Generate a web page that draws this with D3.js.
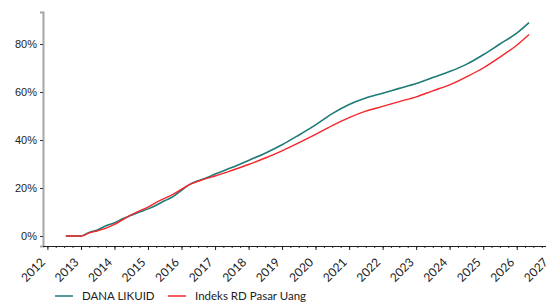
<!DOCTYPE html>
<html>
<head>
<meta charset="utf-8">
<script src="https://cdn.jsdelivr.net/npm/d3@7"></script>
<style>
  body { margin: 0; background: #fff; }
  .ytick text { font-family: "Liberation Sans", Arial, sans-serif; font-size: 11px; fill: #222; }
  .xtick text { font-family: Lato, "Open Sans", sans-serif; font-size: 12px; fill: #222; }
  .legend text { font-family: Lato, "Open Sans", sans-serif; font-size: 11.5px; fill: #222; }
</style>
</head>
<body>
<div id="chart"></div>
<script>
// data (cumulative return, %)
const dates = ["2012-07-20", "2012-10-01", "2013-01-01", "2013-04-01", "2013-07-01", "2013-10-01",
  "2014-01-01", "2014-04-01", "2014-07-01", "2014-10-01", "2015-01-01", "2015-04-01", "2015-07-01",
  "2015-10-01", "2016-01-01", "2016-04-01", "2016-07-01", "2016-10-01", "2017-01-01", "2017-07-01",
  "2018-01-01", "2018-07-01", "2019-01-01", "2019-07-01", "2020-01-01", "2020-07-01", "2021-01-01",
  "2021-07-01", "2022-01-01", "2022-07-01", "2023-01-01", "2023-07-01", "2024-01-01", "2024-07-01",
  "2025-01-01", "2025-07-01", "2026-01-01", "2026-05-15"];
const danaLikuid = [0, 0, 0, 1.5, 2.5, 4.3, 5.5, 7.2, 8.6, 10.0, 11.3, 12.8, 14.7, 16.4, 19.0, 21.5,
  23.0, 24.3, 25.8, 28.5, 31.5, 34.5, 38.0, 42.0, 46.3, 51.0, 54.8, 57.5, 59.5, 61.5, 63.5, 66.0,
  68.5, 71.5, 75.5, 80.0, 84.5, 88.9];
const indeksRD = [0, 0, 0, 1.3, 2.2, 3.3, 4.8, 6.8, 8.8, 10.5, 12.0, 14.0, 15.7, 17.3, 19.5, 21.5,
  22.8, 24.0, 25.0, 27.3, 29.8, 32.5, 35.5, 38.8, 42.3, 46.0, 49.3, 52.0, 54.0, 56.0, 58.0, 60.5,
  63.0, 66.3, 70.0, 74.5, 79.5, 84.0];
const seriesNames = ["DANA LIKUID", "Indeks RD Pasar Uang"];
const seriesColors = ["#1f7a78", "#f5262a"];
const yTicks = [0, 20, 40, 60, 80];

const width = 546, height = 302;
const parse = d3.timeParse("%Y-%m-%d");

const svg = d3.select("#chart").append("svg")
  .attr("width", width)
  .attr("height", height);

const x = d3.scaleTime()
  .domain([parse("2011-11-14"), parse("2026-11-16")])
  .range([43, 546]);

const y = d3.scaleLinear()
  .domain([-4.17, 93.33])
  .range([246, 12]);

// y axis (grey line, small dark ticks)
const yAxis = svg.append("g")
  .attr("class", "ytick")
  .attr("transform", "translate(43,0)")
  .call(d3.axisLeft(y).tickValues(yTicks).tickSize(3).tickPadding(3).tickFormat(d => d + "%"));
yAxis.select(".domain").attr("stroke", "#a6a6a6").attr("stroke-width", 2);
yAxis.selectAll(".tick line").attr("stroke", "#333");

// x axis: minor quarterly ticks, then major yearly ticks with rotated labels
const years = d3.timeYear.range(parse("2012-01-01"), parse("2028-01-01"));
svg.append("g")
  .attr("transform", "translate(0,246)")
  .call(d3.axisBottom(x).ticks(d3.timeMonth.every(3)).tickSize(2).tickFormat(""))
  .call(g => g.select(".domain").remove())
  .selectAll(".tick line").attr("stroke", "#333");

const xAxis = svg.append("g")
  .attr("class", "xtick")
  .attr("transform", "translate(0,246)")
  .call(d3.axisBottom(x).tickValues(years).tickSize(4).tickSizeOuter(0).tickFormat(d3.timeFormat("%Y")));
xAxis.select(".domain").attr("stroke", "#222").attr("d", "M43,0.5H546");
xAxis.selectAll(".tick line").attr("stroke", "#222");
xAxis.selectAll(".tick text")
  .attr("text-anchor", "end")
  .attr("dy", null)
  .attr("y", 0)
  .attr("transform", "translate(-2,17) rotate(-45)");

// lines
const rows = dates.map((d, i) => ({ date: parse(d), a: danaLikuid[i], b: indeksRD[i] }));
const lineA = d3.line().x(d => x(d.date)).y(d => y(d.a)).curve(d3.curveMonotoneX);
const lineB = d3.line().x(d => x(d.date)).y(d => y(d.b)).curve(d3.curveMonotoneX);

svg.append("path").datum(rows)
  .attr("fill", "none").attr("stroke", seriesColors[0]).attr("stroke-width", 1.6)
  .attr("d", lineA);
svg.append("path").datum(rows)
  .attr("fill", "none").attr("stroke", seriesColors[1]).attr("stroke-width", 1.4)
  .attr("d", lineB);

// legend
const legend = svg.append("g").attr("class", "legend");
const legendX = [55, 168];
seriesNames.forEach((name, i) => {
  legend.append("line")
    .attr("x1", legendX[i]).attr("x2", legendX[i] + 18)
    .attr("y1", 296).attr("y2", 296)
    .attr("stroke", seriesColors[i]).attr("stroke-width", 1.5);
  legend.append("text")
    .attr("x", legendX[i] + 27).attr("y", 300)
    .text(name);
});
</script>
</body>
</html>
